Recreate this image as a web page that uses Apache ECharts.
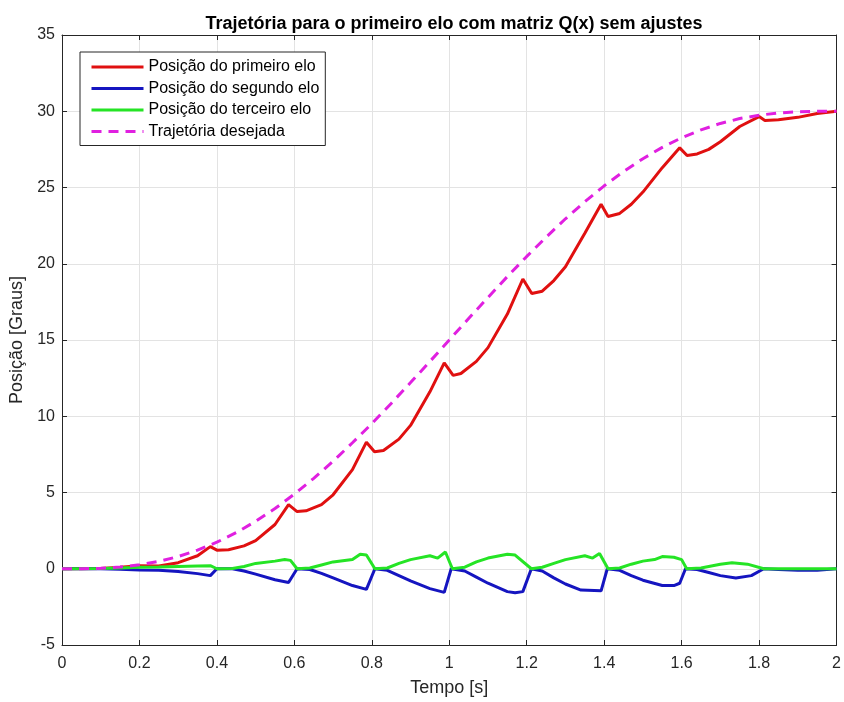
<!DOCTYPE html>
<html><head><meta charset="utf-8">
<script src="https://cdn.jsdelivr.net/npm/echarts@6/dist/echarts.min.js"></script>
<style>html,body{margin:0;padding:0;background:#fff}#c{width:844px;height:702px}</style>
</head><body><div id="c"></div>
<script>
const titleText = 'Trajetória para o primeiro elo com matriz Q(x) sem ajustes';
const seriesNames = ['Posição do primeiro elo','Posição do segundo elo','Posição do terceiro elo','Trajetória desejada'];
const xTicks = [0,0.2,0.4,0.6,0.8,1,1.2,1.4,1.6,1.8,2];
const yTicks = [-5,0,5,10,15,20,25,30,35];

const elo1 = [[0,0],[0.1,0.02],[0.15,0.1],[0.2,0.2],[0.25,0.18],[0.3,0.4],[0.35,0.85],[0.383,1.45],[0.4,1.22],[0.43,1.25],[0.47,1.5],[0.5,1.85],[0.55,2.9],[0.585,4.2],[0.607,3.75],[0.63,3.8],[0.67,4.2],[0.7,4.85],[0.75,6.5],[0.786,8.3],[0.807,7.67],[0.83,7.75],[0.87,8.5],[0.9,9.4],[0.95,11.6],[0.987,13.5],[1.01,12.68],[1.03,12.8],[1.07,13.6],[1.1,14.5],[1.15,16.7],[1.19,19.0],[1.213,18.05],[1.24,18.2],[1.27,18.9],[1.3,19.8],[1.35,22.0],[1.392,23.9],[1.41,23.1],[1.44,23.3],[1.47,23.9],[1.5,24.7],[1.55,26.3],[1.595,27.6],[1.614,27.1],[1.64,27.2],[1.67,27.5],[1.7,28.0],[1.75,29.0],[1.8,29.65],[1.815,29.4],[1.85,29.45],[1.9,29.6],[1.95,29.85],[2.0,30.0]];
const elo2 = [[0,0],[0.1,0],[0.15,-0.03],[0.2,-0.08],[0.25,-0.1],[0.3,-0.18],[0.35,-0.32],[0.383,-0.45],[0.4,0],[0.44,0],[0.47,-0.15],[0.5,-0.35],[0.55,-0.72],[0.585,-0.9],[0.607,0],[0.64,-0.05],[0.67,-0.3],[0.7,-0.6],[0.75,-1.1],[0.786,-1.35],[0.808,0],[0.84,-0.1],[0.87,-0.45],[0.9,-0.8],[0.95,-1.3],[0.987,-1.55],[1.005,0],[1.04,-0.15],[1.07,-0.55],[1.1,-0.95],[1.15,-1.5],[1.17,-1.58],[1.19,-1.5],[1.212,0],[1.24,-0.15],[1.27,-0.6],[1.3,-1.0],[1.34,-1.4],[1.392,-1.45],[1.408,0],[1.44,-0.1],[1.47,-0.45],[1.5,-0.75],[1.55,-1.1],[1.58,-1.1],[1.595,-0.95],[1.61,0],[1.64,-0.05],[1.67,-0.25],[1.7,-0.45],[1.74,-0.6],[1.78,-0.45],[1.812,0],[1.85,-0.05],[1.9,-0.1],[1.95,-0.1],[2,0]];
const elo3 = [[0,0],[0.1,0.02],[0.15,0.05],[0.2,0.1],[0.25,0.12],[0.3,0.15],[0.35,0.18],[0.383,0.2],[0.4,0],[0.44,0.02],[0.47,0.15],[0.5,0.35],[0.55,0.5],[0.575,0.6],[0.59,0.55],[0.607,0],[0.64,0.05],[0.67,0.25],[0.7,0.45],[0.75,0.6],[0.77,0.95],[0.786,0.9],[0.808,0],[0.84,0.05],[0.87,0.35],[0.9,0.6],[0.95,0.85],[0.97,0.7],[0.99,1.1],[1.008,0],[1.04,0.1],[1.07,0.45],[1.1,0.7],[1.15,0.95],[1.17,0.9],[1.212,0],[1.24,0.1],[1.27,0.35],[1.3,0.6],[1.35,0.85],[1.37,0.7],[1.388,1.0],[1.41,0],[1.44,0.05],[1.47,0.3],[1.5,0.5],[1.53,0.6],[1.55,0.8],[1.58,0.75],[1.6,0.6],[1.613,0],[1.65,0.05],[1.7,0.3],[1.73,0.4],[1.77,0.3],[1.812,0],[2,0]];
const desejadaT = [0,0.05,0.1,0.15,0.2,0.25,0.3,0.35,0.4,0.45,0.5,0.55,0.6,0.65,0.7,0.75,0.8,0.85,0.9,0.95,1.0,1.05,1.1,1.15,1.2,1.25,1.3,1.35,1.4,1.45,1.5,1.55,1.6,1.65,1.7,1.75,1.8,1.85,1.9,1.95,2.0];
const desejadaV = [0,0.0,0.03,0.11,0.26,0.48,0.8,1.22,1.74,2.37,3.11,3.95,4.89,5.93,7.05,8.26,9.52,10.84,12.21,13.59,15.0,16.41,17.79,19.16,20.48,21.74,22.95,24.07,25.11,26.05,26.89,27.63,28.26,28.78,29.2,29.52,29.74,29.89,29.97,30.0,30.0];

const FONT = 'Arimo, "Liberation Sans", Arial, Helvetica, sans-serif';
const AX = '#262626';
const chart = echarts.init(document.getElementById('c'), null, {renderer:'canvas'});
const fmt = v => String(Math.round(v*10)/10);
const baseX = {type:'value', min:0, max:2, interval:0.2,
  axisLine:{show:true, onZero:false, lineStyle:{color:AX, width:1}},
  axisTick:{show:true, inside:true, length:5, lineStyle:{color:AX}},
  splitLine:{show:false}};
const baseY = {type:'value', min:-5, max:35, interval:5,
  axisLine:{show:true, onZero:false, lineStyle:{color:AX, width:1}},
  axisTick:{show:true, inside:true, length:5, lineStyle:{color:AX}},
  splitLine:{show:false}};
chart.setOption({
  animation:false,
  backgroundColor:'#fff',
  title:{text:titleText, left:449, top:10, textAlign:'center',
    textStyle:{fontFamily:FONT, fontSize:18, fontWeight:'bold', color:'#000'}},
  grid:{left:62, right:7, top:35, bottom:56, containLabel:false},
  legend:{orient:'vertical', left:80, top:52, padding:[7,6,6,10], itemGap:5.5,
    itemWidth:52, itemHeight:14, backgroundColor:'#fff', borderColor:AX, borderWidth:1,
    itemStyle:{opacity:0}, lineStyle:{width:3},
    textStyle:{fontFamily:FONT, fontSize:16, color:'#000'}, data:seriesNames},
  xAxis:[
    Object.assign({}, baseX, {position:'bottom', name:'Tempo [s]', nameLocation:'middle', nameGap:34,
      nameTextStyle:{fontFamily:FONT, fontSize:18, color:AX},
      axisLabel:{fontFamily:FONT, fontSize:16, color:AX, margin:11, formatter:fmt},
      splitLine:{show:true, lineStyle:{color:'#e3e3e3', width:1}}}),
    Object.assign({}, baseX, {position:'top', axisLabel:{show:false}})
  ],
  yAxis:[
    Object.assign({}, baseY, {position:'left', name:'Posição [Graus]', nameLocation:'middle', nameGap:32,
      nameTextStyle:{fontFamily:FONT, fontSize:18, color:AX},
      axisLabel:{fontFamily:FONT, fontSize:16, color:AX, margin:7, formatter:fmt},
      splitLine:{show:true, lineStyle:{color:'#e3e3e3', width:1}}}),
    Object.assign({}, baseY, {position:'right', axisLabel:{show:false}})
  ],
  series:[
    {name:seriesNames[0], type:'line', data:elo1, symbol:'none', lineStyle:{color:'#e01010', width:3}, itemStyle:{color:'#e01010'}},
    {name:seriesNames[1], type:'line', data:elo2, symbol:'none', lineStyle:{color:'#1515c0', width:3}, itemStyle:{color:'#1515c0'}},
    {name:seriesNames[2], type:'line', data:elo3, symbol:'none', lineStyle:{color:'#25e425', width:3}, itemStyle:{color:'#25e425'}},
    {name:seriesNames[3], type:'line', data:desejadaT.map((t,i)=>[t,desejadaV[i]]), symbol:'none',
      lineStyle:{color:'#e020e0', width:3, type:[10,7]}, itemStyle:{color:'#e020e0'}}
  ]
});
</script></body></html>
